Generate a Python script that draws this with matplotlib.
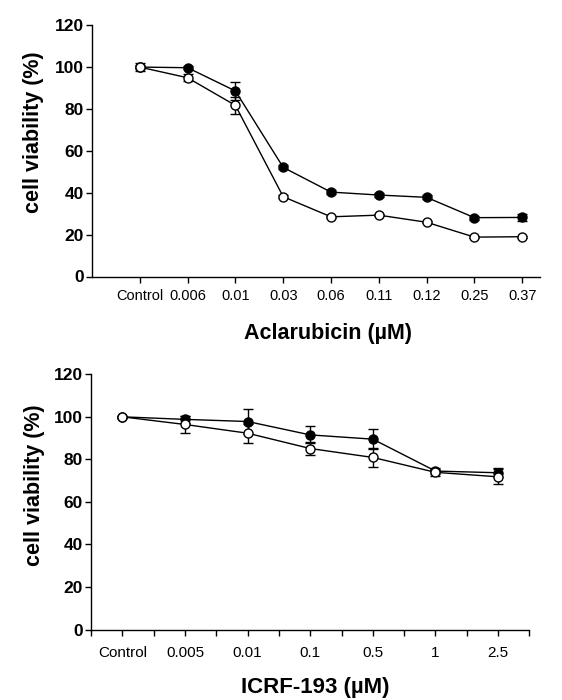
import matplotlib.pyplot as plt
import numpy as np

plt.rcParams['font.family'] = ['Liberation Sans', 'DejaVu Sans']

# top panel: aclarubicin
acla_labels = ['Control', '0.006', '0.01', '0.03', '0.06', '0.11', '0.12', '0.25', '0.37']
acla_filled = [100, 99.7, 88.6, 52.1, 40.3, 38.9, 37.8, 28.1, 28.2]
acla_filled_err = [0.8, 0.8, 4.2, 1.0, 0.8, 0.9, 1.0, 1.0, 1.6]
acla_open = [100, 94.9, 81.7, 38.1, 28.5, 29.3, 25.9, 18.8, 19.0]
acla_open_err = [2.0, 1.6, 4.0, 0.6, 0.5, 0.5, 0.5, 0.4, 0.4]

# bottom panel: ICRF-193
icrf_labels = ['Control', '0.005', '0.01', '0.1', '0.5', '1', '2.5']
icrf_filled = [100, 98.8, 97.8, 91.5, 89.5, 74.5, 73.7]
icrf_filled_err = [0.5, 1.6, 6.0, 4.0, 4.6, 1.5, 2.2]
icrf_open = [100, 96.4, 92.3, 85.1, 80.9, 73.9, 71.8]
icrf_open_err = [0.5, 3.9, 4.4, 3.0, 4.4, 1.6, 3.6]


def style_axis(ax, ylab_pos, xlab_pos):
    ax.spines['top'].set_visible(False)
    ax.spines['right'].set_visible(False)
    ax.spines['left'].set_linewidth(1.0)
    ax.spines['bottom'].set_linewidth(1.0)
    ax.set_ylim(0, 120)
    ax.set_yticks(np.arange(0, 121, 20))
    ax.tick_params(axis='y', direction='out', length=4, width=1, labelsize=12.5, pad=2)
    for lab in ax.get_yticklabels():
        lab.set_fontweight('bold')
    ax.set_ylabel('cell viability (%)', fontsize=15.5, fontweight='bold')
    ax.yaxis.label.set_va('center')
    ax.yaxis.set_label_coords(ylab_pos[0], ylab_pos[1])
    ax.xaxis.label.set_va('center')
    ax.xaxis.set_label_coords(xlab_pos[0], xlab_pos[1])


def draw_series(ax, x, filled, ferr, opn, oerr, ms):
    ax.errorbar(x, filled, yerr=ferr, fmt='-o', color='black', mfc='black', mec='black',
                ms=ms, lw=1.0, elinewidth=1.0, capsize=3.5, capthick=1.0, zorder=2)
    ax.errorbar(x, opn, yerr=oerr, fmt='-o', color='black', mfc='white', mec='black',
                ms=ms, mew=1.0, lw=1.0, elinewidth=1.0, capsize=3.5, capthick=1.0, zorder=3)


fig = plt.figure(figsize=(5.62, 7.0), dpi=100)

ax1 = fig.add_axes([0.1637, 0.605, 0.797, 0.359])
x1 = np.arange(1, len(acla_labels) + 1)
draw_series(ax1, x1, acla_filled, acla_filled_err, acla_open, acla_open_err, 6.5)
ax1.set_xlim(0, 9.37)
ax1.set_xticks(x1)
ax1.set_xticklabels(acla_labels, fontsize=10.5)
ax1.tick_params(axis='x', direction='out', length=4, width=1, pad=5)
ax1.set_xlabel('Aclarubicin (µM)', fontsize=15.5, fontweight='bold')
style_axis(ax1, (-0.1295, 0.5726), (0.528, -0.225))

ax2 = fig.add_axes([0.162, 0.1007, 0.780, 0.3646])
x2 = np.arange(1, len(icrf_labels) + 1)
draw_series(ax2, x2, icrf_filled, icrf_filled_err, icrf_open, icrf_open_err, 6.5)
ax2.set_xlim(0.5, 7.5)
ax2.set_xticks(x2)
ax2.set_xticks(np.arange(0.5, 7.6, 1.0), minor=True)
ax2.set_xticklabels(icrf_labels, fontsize=11)
ax2.tick_params(axis='x', which='both', direction='out', length=4, width=1, pad=8)
ax2.set_xlabel('ICRF-193 (µM)', fontsize=16, fontweight='bold')
style_axis(ax2, (-0.130, 0.566), (0.511, -0.229))

fig.savefig('out.png', dpi=100)
